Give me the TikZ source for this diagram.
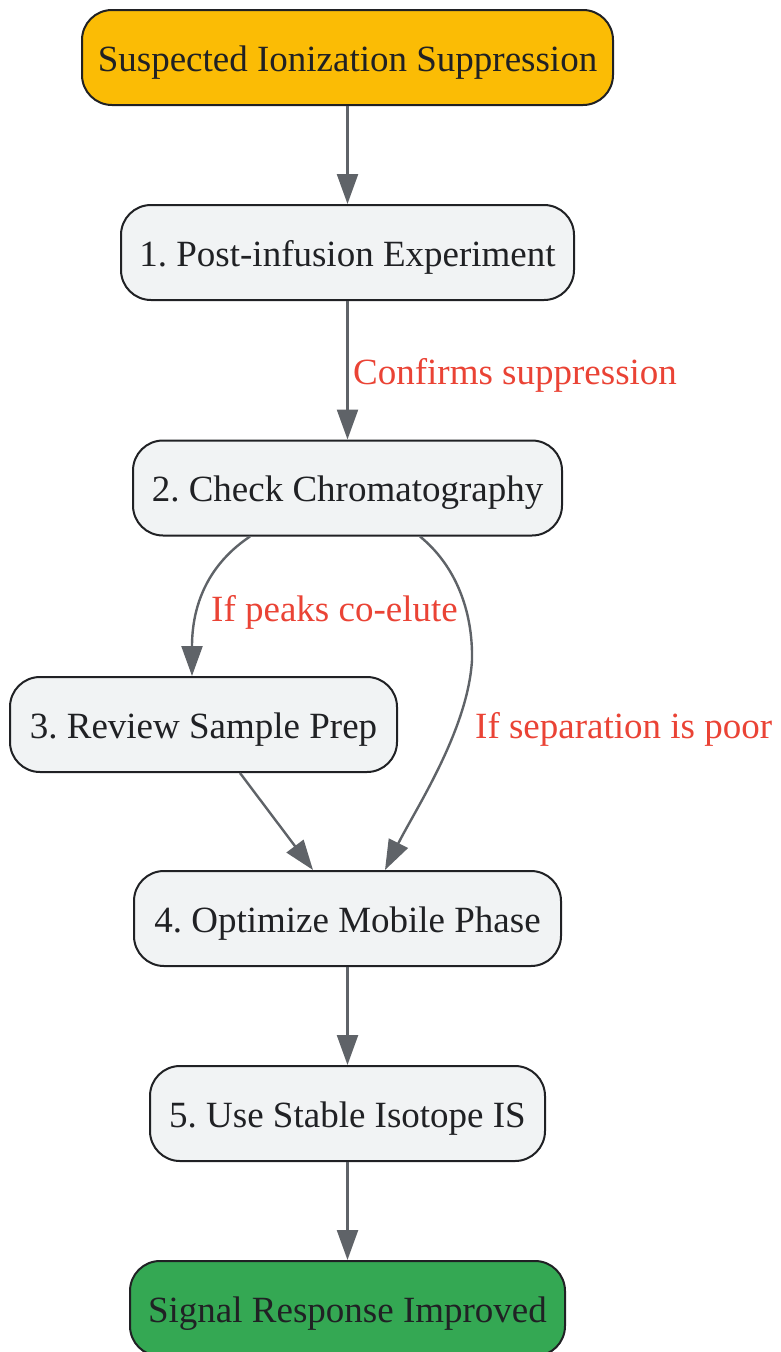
\documentclass[tikz,border=0pt]{standalone}
\usepackage{fontspec}
\setmainfont{Liberation Serif}
\usetikzlibrary{arrows.meta}
\definecolor{edgegray}{HTML}{5F6368}
\definecolor{boxgray}{HTML}{F1F3F4}
\definecolor{ink}{HTML}{202124}
\definecolor{lblred}{HTML}{EA4335}
\definecolor{startyel}{HTML}{FBBC05}
\definecolor{endgreen}{HTML}{34A853}
\frenchspacing
\begin{document}
\begin{tikzpicture}[x=1pt,y=-1pt,
  stepbox/.style={draw=ink, line width=2pt, rounded corners=30pt, fill=boxgray,
    text=ink, font=\fontsize{37}{44}\selectfont, minimum height=95pt, inner sep=0pt,
    text height=27pt, text depth=0pt},
  flow/.style={draw=edgegray, line width=2.4pt, -{Triangle[length=30pt,width=21pt]}},
  lbl/.style={text=lblred, font=\fontsize{37}{44}\selectfont, inner sep=0pt, anchor=base west}]
\useasboundingbox (0,0) rectangle (780,1352);
\clip (0,0) rectangle (780,1352);
\node[stepbox, fill=startyel, minimum width=531pt] (top) at (347.5,57.5) {Suspected Ionization Suppression};
\node[stepbox, minimum width=453pt] (s1) at (347.5,252.5) {1. Post-infusion Experiment};
\node[stepbox, minimum width=429pt] (s2) at (347.5,488) {2. Check Chromatography};
\node[stepbox, minimum width=387pt] (s3) at (203.5,724.5) {3. Review Sample Prep};
\node[stepbox, minimum width=427pt] (s4) at (347.5,918.5) {4. Optimize Mobile Phase};
\node[stepbox, minimum width=395pt] (s5) at (347.5,1113.5) {5. Use Stable Isotope IS};
\node[stepbox, fill=endgreen, minimum width=435pt] (fin) at (347.5,1308.5) {Signal Response Improved};
\draw[flow] (top) -- (s1);
\draw[flow] (s1) -- (s2);
\node[lbl] (l1) at (353,384) {Confirms suppression};
\draw[flow] ([xshift=-97.5pt]s2.south) .. controls (200,570) and (192,617) .. ([xshift=-11.5pt]s3.north);
\node[lbl] (l2) at (211,621.5) {If peaks co-elute};
\draw[flow] ([xshift=72.5pt]s2.south) .. controls (455,565) and (473,610) .. (472,660)
  .. controls (468,730) and (415,810) .. ([xshift=37.5pt]s4.north);
\node[lbl] (l3) at (475,738.5) {If separation is poor};
\draw[flow] ([xshift=36.5pt]s3.south) -- ([xshift=-34.5pt]s4.north);
\draw[flow] (s4) -- (s5);
\draw[flow] (s5) -- (fin);
\end{tikzpicture}
\end{document}
